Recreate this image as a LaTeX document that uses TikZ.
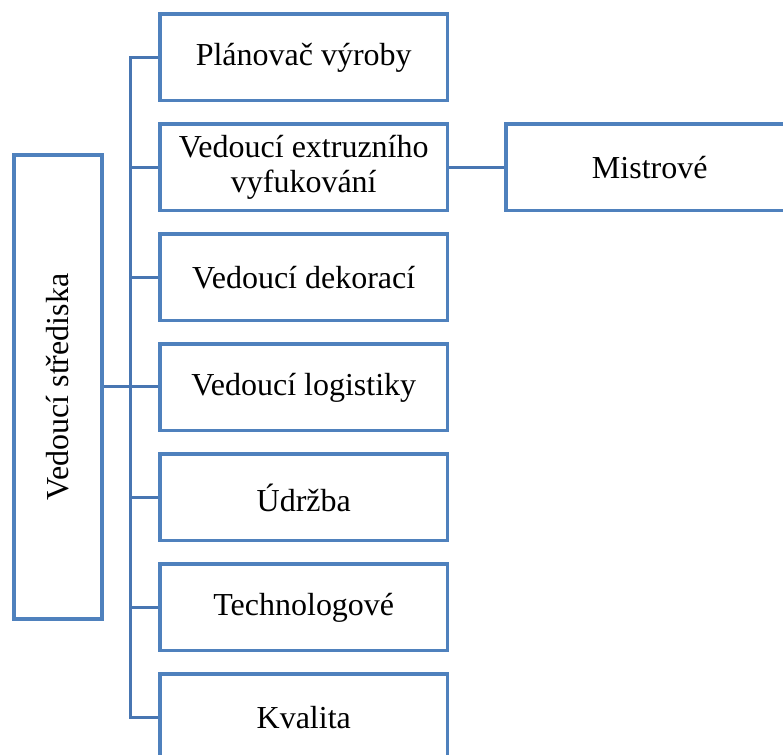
\documentclass[tikz,border=0pt]{standalone}
\usepackage{fontspec}
\setmainfont{Liberation Serif}
\definecolor{boxblue}{RGB}{79,129,189}
\definecolor{linkblue}{RGB}{72,118,178}
\begin{document}
\begin{tikzpicture}[x=0.75pt,y=-0.75pt,
  unitbox/.style={draw=boxblue,line width=3.5*0.75pt,fill=white,
    minimum width=287.5*0.75pt,minimum height=86.5*0.75pt,inner sep=0pt,
    align=center,font=\fontsize{24}{26}\selectfont},
  headbox/.style={draw=boxblue,line width=3.5*0.75pt,fill=white,rotate=90,
    minimum width=464*0.75pt,minimum height=88*0.75pt,inner sep=0pt,
    font=\fontsize{24}{26}\selectfont},
  link/.style={draw=linkblue,line width=3*0.75pt}]
  \clip (0,0) rectangle (783,755);
  \fill[white] (0,0) rectangle (783,755);

  % head of the centre
  \node[headbox] (lead) at (58,387) {Vedoucí střediska};

  % subordinate units, one per row
  \node[unitbox] (b1) at (303.75,57.5) {Plánovač výroby};
  \node[unitbox,font=\fontsize{24}{25.5}\selectfont] (b2) at (303.75,167.5)
    {Vedoucí extruzního\\[1pt]vyfukování};
  \node[unitbox] (b3) at (303.75,277.5) {Vedoucí dekorací};
  \node[unitbox] (b4) at (303.75,387.5) {Vedoucí logistiky};
  \node[unitbox] (b5) at (303.75,497.5) {Údržba};
  \node[unitbox] (b6) at (303.75,607.5) {Technologové};
  \node[unitbox] (b7) at (303.75,717.5) {Kvalita};
  \node[unitbox] (m) at (649.75,167.5) {Mistrové};

  % vertical trunk and branches
  \coordinate (tx) at (130.5,0);
  \draw[link] (b1.west) -- (b1.west -| tx) -- (b7.west -| tx) -- (b7.west);
  \foreach \k in {2,3,5,6} {
    \draw[link] (b\k.west) -- (b\k.west -| tx);
  }
  \draw[link] (lead.south) -- (lead.south -| b4.west);
  \draw[link] (b2.east) -- (m.west);
\end{tikzpicture}
\end{document}
